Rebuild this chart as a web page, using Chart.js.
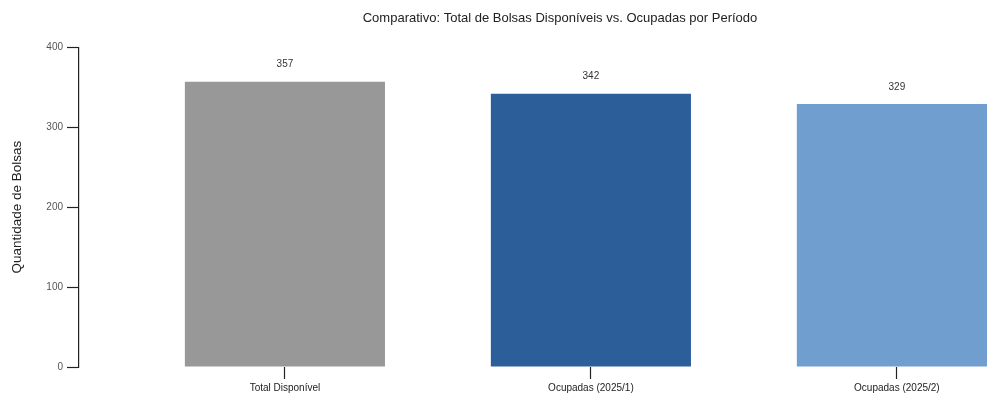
<!DOCTYPE html>
<html>
<head>
<meta charset="utf-8">
<script src="https://cdn.jsdelivr.net/npm/chart.js@4.4.1/dist/chart.umd.min.js"></script>
<style>
  html, body { margin: 0; padding: 0; background: #ffffff; overflow: hidden; }
  #wrap { position: relative; width: 1041px; height: 394px; }
</style>
</head>
<body>
<div id="wrap"><canvas id="chart"></canvas></div>
<script>
// Scholarship counts: total available vs. occupied per term
const categories = ['Total Disponível', 'Ocupadas (2025/1)', 'Ocupadas (2025/2)'];
const quantities = [357, 342, 329];
const barColors = ['#989898', '#2c5f9a', '#709ecf'];
const yTicks = [0, 100, 200, 300, 400];

const FONT = '"Liberation Sans", Arial, sans-serif';

// Numeric value written above each bar
const valueLabels = {
  id: 'valueLabels',
  afterDatasetsDraw(chart) {
    const ctx = chart.ctx;
    const meta = chart.getDatasetMeta(0);
    ctx.save();
    ctx.font = '10px ' + FONT;
    ctx.fillStyle = '#333333';
    ctx.textAlign = 'center';
    ctx.textBaseline = 'middle';
    meta.data.forEach((bar, i) => {
      ctx.fillText(String(quantities[i]), bar.x, bar.y - 17);
    });
    ctx.restore();
  }
};

new Chart(document.getElementById('chart'), {
  type: 'bar',
  data: {
    datasets: [{
      data: quantities.map((v, i) => ({ x: i, y: v })),
      backgroundColor: barColors,
      borderWidth: 0,
      categoryPercentage: 1.0,
      barPercentage: 0.654
    }]
  },
  options: {
    responsive: true,
    maintainAspectRatio: false,
    animation: false,
    layout: { padding: 0 },
    plugins: {
      legend: { display: false },
      tooltip: { enabled: false },
      title: {
        display: true,
        text: 'Comparativo: Total de Bolsas Disponíveis vs. Ocupadas por Período',
        color: '#222222',
        font: { family: FONT, size: 13, weight: 'normal' },
        fullSize: false,
        padding: { top: 10.5, bottom: 21.2 }
      }
    },
    scales: {
      x: {
        type: 'linear',
        offset: false,
        min: -0.673,
        max: 2.471,
        afterBuildTicks(scale) {
          scale.ticks = categories.map((_, i) => ({ value: i }));
        },
        afterFit(scale) { scale.height = 27; },
        border: { display: false },
        grid: {
          offset: false,
          drawOnChartArea: false,
          drawTicks: true,
          tickLength: 12,
          tickColor: '#222222',
          tickWidth: 1.2
        },
        ticks: {
          padding: 3,
          maxRotation: 0,
          autoSkip: false,
          color: '#222222',
          font: { family: FONT, size: 10 },
          callback: (v) => categories[v]
        }
      },
      y: {
        min: 0,
        max: 400,
        afterBuildTicks(scale) {
          scale.ticks = yTicks.map(v => ({ value: v }));
        },
        afterFit(scale) { scale.width = 79; },
        border: { display: true, color: '#222222', width: 1.2 },
        grid: {
          drawOnChartArea: false,
          drawTicks: true,
          tickLength: 12,
          tickColor: '#222222',
          tickWidth: 1.2
        },
        ticks: {
          padding: 4,
          color: '#555555',
          font: { family: FONT, size: 10 }
        },
        title: {
          display: true,
          text: 'Quantidade de Bolsas',
          color: '#222222',
          font: { family: FONT, size: 13.5 },
          padding: { top: 9, bottom: 0 }
        }
      }
    }
  },
  plugins: [valueLabels]
});
</script>
</body>
</html>
